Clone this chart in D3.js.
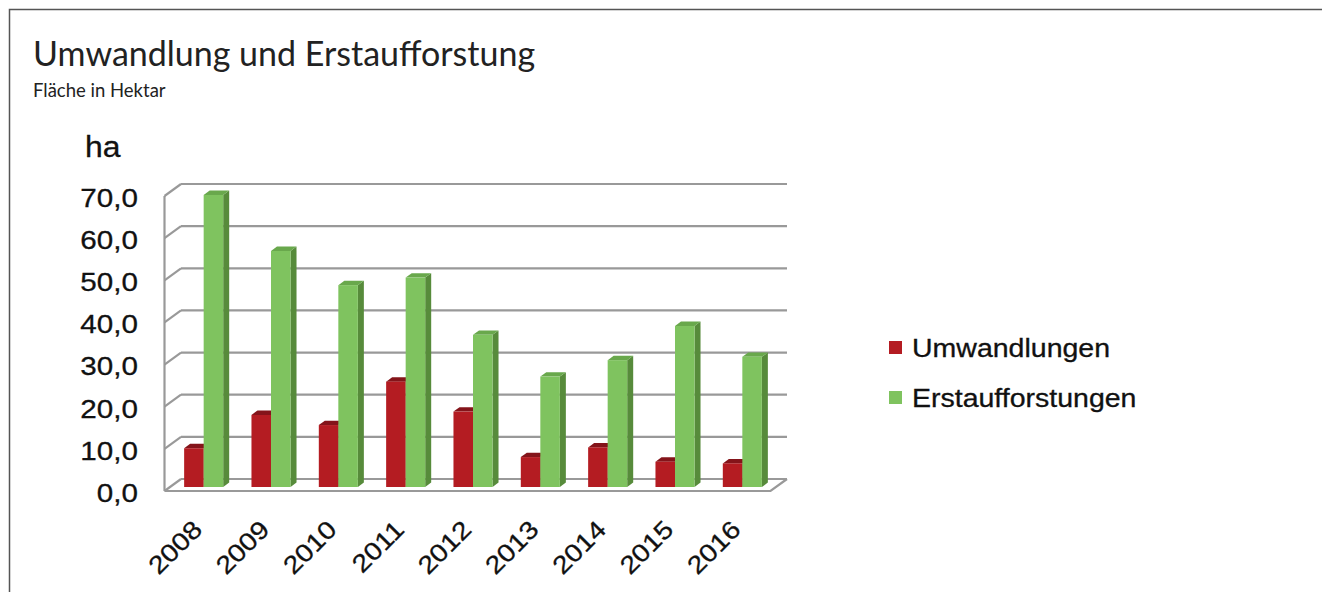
<!DOCTYPE html>
<html>
<head>
<meta charset="utf-8">
<script src="https://cdn.jsdelivr.net/npm/d3@7"></script>
<style>
  body { margin: 0; background: #fff; }
  svg { display: block; }
</style>
</head>
<body>
<div id="chart"></div>
<script>
var years = ["2008", "2009", "2010", "2011", "2012", "2013", "2014", "2015", "2016"];
var umwandlungen = [9.2, 17.1, 14.7, 25.0, 17.9, 7.1, 9.4, 6.0, 5.6];
var erstaufforstungen = [69.3, 56.0, 47.9, 49.7, 36.1, 26.2, 30.1, 38.2, 30.9];
var yTicks = [0, 10, 20, 30, 40, 50, 60, 70];
var seriesNames = ["Umwandlungen", "Erstaufforstungen"];

var width = 1322, height = 592;
var svg = d3.select("#chart").append("svg").attr("width", width).attr("height", height);

// the embedded chart text is a bit wider than plain Arial
function stretch(sel, k) {
    sel.each(function () {
        var len = this.getComputedTextLength();
        d3.select(this).attr("textLength", len * k).attr("lengthAdjust", "spacingAndGlyphs");
    });
}

// outer frame
svg.append("path")
    .attr("d", "M9.5,600 V9.5 H1330")
    .attr("fill", "none").attr("stroke", "#555").attr("stroke-width", 1.5);

svg.append("text").attr("x", 33).attr("y", 66)
    .style("font-family", "Lato").style("font-size", "34px").attr("fill", "#222")
    .text("Umwandlung und Erstaufforstung");
svg.append("text").attr("x", 33).attr("y", 97)
    .style("font-family", "Lato").style("font-size", "18.5px").attr("fill", "#222")
    .text("Fläche in Hektar");

// scales in the plane of the bar fronts
var x = d3.scaleBand().domain(years).range([170, 776]).paddingInner(0.42).paddingOuter(0.21);
var xs = d3.scaleBand().domain(seriesNames).range([0, x.bandwidth()]);
var y = d3.scaleLinear().domain([0, 70]).range([487, 192]);

// offsets: back wall and front floor edge relative to bar plane
var back = { dx: 11, dy: -8 }, front = { dx: -5.5, dy: 4 };
var depth = { dx: 6, dy: -4.4 };
var gridColor = "#999";

var x0 = x.range()[0], x1 = x.range()[1];
var walls = svg.append("g").attr("fill", "none").attr("stroke", gridColor).attr("stroke-width", 2.2);

// back wall gridlines + side wall diagonals
yTicks.forEach(function (v) {
    walls.append("line")
        .attr("x1", x0 + back.dx).attr("x2", x1 + back.dx)
        .attr("y1", y(v) + back.dy).attr("y2", y(v) + back.dy);
    walls.append("line")
        .attr("x1", x0 + back.dx).attr("x2", x0 + front.dx)
        .attr("y1", y(v) + back.dy).attr("y2", y(v) + front.dy);
});
// side wall front edge
walls.append("line")
    .attr("x1", x0 + front.dx).attr("x2", x0 + front.dx)
    .attr("y1", y(70) + front.dy).attr("y2", y(0) + front.dy);
// floor
walls.append("path")
    .attr("d", "M" + (x0 + front.dx) + "," + (y(0) + front.dy) +
        "H" + (x1 + front.dx) + "L" + (x1 + back.dx) + "," + (y(0) + back.dy));

var colors = {
    Umwandlungen: { front: "#b41c22", top: "#84141a", side: "#7a1015" },
    Erstaufforstungen: { front: "#7fc35f", top: "#69a84c", side: "#578b3b" }
};

var bars = [];
years.forEach(function (yr, i) {
    bars.push({ year: yr, series: "Umwandlungen", value: umwandlungen[i] });
    bars.push({ year: yr, series: "Erstaufforstungen", value: erstaufforstungen[i] });
});

var bw = xs.bandwidth();
var g = svg.append("g").selectAll("g").data(bars).enter().append("g");
// side face
g.append("path")
    .attr("fill", d => colors[d.series].side)
    .attr("d", function (d) {
        var xr = x(d.year) + xs(d.series) + bw;
        return "M" + xr + "," + y(d.value) + "l" + depth.dx + "," + depth.dy +
            "V" + (y(0) + depth.dy) + "L" + xr + "," + y(0) + "Z";
    });
// top face
g.append("path")
    .attr("fill", d => colors[d.series].top)
    .attr("d", function (d) {
        var xl = x(d.year) + xs(d.series);
        return "M" + xl + "," + y(d.value) + "l" + depth.dx + "," + depth.dy +
            "h" + bw + "l" + (-depth.dx) + "," + (-depth.dy) + "Z";
    });
// front face
g.append("rect")
    .attr("x", d => x(d.year) + xs(d.series))
    .attr("y", d => y(d.value))
    .attr("width", bw)
    .attr("height", d => y(0) - y(d.value))
    .attr("fill", d => colors[d.series].front);

// y axis labels
var fmt = d3.format(".1f");
var yAxis = svg.append("g").attr("transform", "translate(138,6)")
    .call(d3.axisLeft(y).tickValues(yTicks).tickSize(0).tickPadding(0)
        .tickFormat(d => fmt(d).replace(".", ",")));
yAxis.select(".domain").remove();
yAxis.selectAll("text").attr("fill", "#111").style("font-family", "Liberation Sans, Arial")
    .style("font-size", "26px").attr("stroke", "#111").attr("stroke-width", 0.3)
    .call(stretch, 1.14);

svg.append("text").attr("x", 85).attr("y", 157).attr("fill", "#111")
    .style("font-family", "Liberation Sans, Arial").style("font-size", "29px")
    .attr("stroke", "#111").attr("stroke-width", 0.3)
    .text("ha")
    .call(stretch, 1.1);

// x labels, rotated
var xAxis = svg.append("g").attr("transform", "translate(0,531)")
    .call(d3.axisBottom(x).tickSize(0).tickPadding(0));
xAxis.select(".domain").remove();
xAxis.selectAll("text")
    .attr("y", 0).attr("dy", 0)
    .attr("text-anchor", "end")
    .attr("transform", "rotate(-45)")
    .attr("fill", "#111").attr("stroke", "#111").attr("stroke-width", 0.3)
    .style("font-family", "Liberation Sans, Arial").style("font-size", "25px")
    .call(stretch, 1.14);

// legend
var legend = svg.append("g").selectAll("g").data(seriesNames).enter().append("g")
    .attr("transform", (d, i) => "translate(889," + (341 + i * 50) + ")");
legend.append("rect").attr("width", 13).attr("height", 13).attr("fill", d => colors[d].front);
legend.append("text").attr("x", 23).attr("y", 16).attr("fill", "#111")
    .attr("stroke", "#111").attr("stroke-width", 0.3)
    .style("font-family", "Liberation Sans, Arial").style("font-size", "25px")
    .text(d => d)
    .call(stretch, 1.14);
</script>
</body>
</html>
